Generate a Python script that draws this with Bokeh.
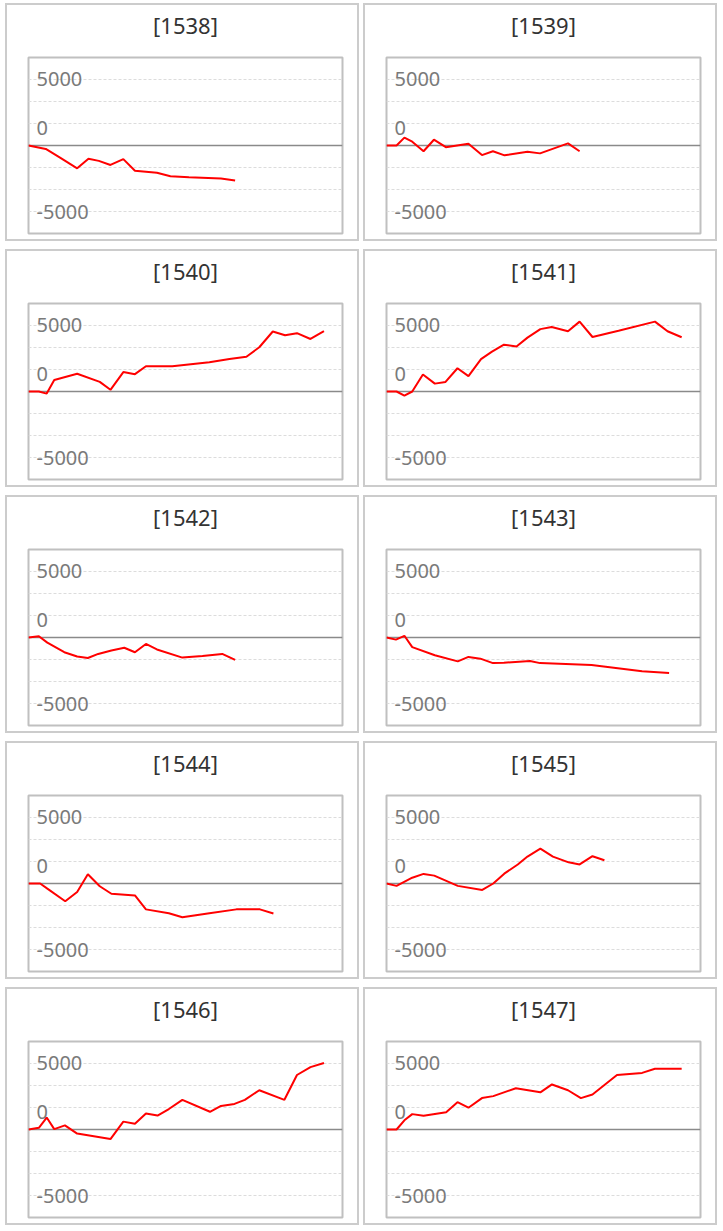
from bokeh.plotting import figure
from bokeh.layouts import gridplot
from bokeh.models import Range1d, FixedTicker, Span, Title
from bokeh.core.properties import value
from bokeh.embed import file_html
from bokeh.resources import INLINE

# ---- data -------------------------------------------------------------
IDS = ["1538", "1539", "1540", "1541", "1542", "1543", "1544", "1545", "1546", "1547"]

X_1538 = [0, 5.5, 10.3, 15.5, 19.1, 22.4, 26.1, 30.2, 33.9, 40.9, 45.2, 51.1, 61.3, 65.8]
Y_1538 = [0, -260, -960, -1740, -1010, -1170, -1480, -1040, -1920, -2080, -2340, -2410, -2520, -2670]

X_1539 = [0, 3.2, 5.7, 8.2, 11.8, 15.1, 18.9, 26.1, 30.4, 33.9, 37.6, 44.9, 48.9, 57.8, 61.5]
Y_1539 = [0, 0, 600, 290, -440, 440, -130, 130, -730, -440, -750, -470, -600, 160, -440]

X_1540 = [0, 3.3, 5.8, 8.2, 15.5, 22.7, 26.1, 30.2, 33.9, 37.4, 45.8, 57.6, 64.0, 69.4, 73.5, 77.8, 81.7, 85.5, 89.8, 94.1]
Y_1540 = [0, 0, -160, 880, 1350, 730, 130, 1480, 1320, 1920, 1920, 2230, 2470, 2650, 3370, 4570, 4280, 4440, 4000, 4600]

X_1541 = [0, 3.2, 5.7, 8.2, 11.6, 15.4, 18.8, 22.6, 26.1, 30.1, 33.6, 37.4, 41.4, 44.9, 49.0, 52.6, 57.8, 61.5, 65.6, 73.9, 85.5, 89.5, 94.0]
Y_1541 = [0, 0, -310, 0, 1300, 600, 730, 1770, 1170, 2470, 3040, 3560, 3430, 4100, 4750, 4910, 4590, 5320, 4150, 4620, 5320, 4590, 4130]

X_1542 = [0, 3.3, 6.0, 11.4, 15.5, 18.9, 22.2, 26.4, 30.5, 33.9, 37.4, 40.9, 49.0, 55.4, 61.7, 65.8]
Y_1542 = [0, 100, -390, -1120, -1450, -1560, -1250, -990, -780, -1120, -490, -910, -1530, -1400, -1250, -1710]

X_1543 = [0, 3.0, 5.7, 8.2, 15.4, 22.7, 26.1, 29.9, 33.9, 37.4, 45.7, 48.9, 65.3, 81.4, 90.0]
Y_1543 = [0, -160, 130, -730, -1350, -1820, -1480, -1610, -1950, -1920, -1790, -1950, -2100, -2570, -2700]

X_1544 = [0, 3.7, 6.0, 11.7, 15.5, 18.9, 22.7, 26.4, 33.9, 37.4, 44.7, 49.0, 57.6, 66.2, 73.7, 78.0]
Y_1544 = [0, 0, -390, -1350, -650, 700, -210, -780, -910, -1970, -2260, -2570, -2260, -1970, -1970, -2280]

X_1545 = [0, 3.2, 8.2, 11.8, 15.2, 22.7, 30.5, 34.0, 37.5, 41.8, 44.9, 49.0, 53.0, 58.0, 61.5, 65.6, 69.4]
Y_1545 = [0, -180, 440, 730, 600, -180, -490, 0, 750, 1450, 2050, 2650, 2050, 1610, 1450, 2080, 1770]

X_1546 = [0, 3.3, 5.8, 8.2, 11.6, 15.5, 26.1, 30.2, 33.9, 37.4, 41.1, 44.7, 49.0, 57.8, 61.3, 65.6, 68.9, 73.5, 81.5, 85.5, 89.8, 94.1]
Y_1546 = [0, 130, 910, 30, 310, -310, -730, 600, 440, 1220, 1060, 1560, 2260, 1350, 1790, 1950, 2260, 2990, 2260, 4150, 4750, 5060]

X_1547 = [0, 3.2, 5.7, 8.2, 11.8, 19.0, 22.6, 26.1, 30.4, 34.0, 41.2, 49.0, 52.7, 57.8, 61.9, 65.6, 69.6, 73.4, 81.4, 85.5, 94.0]
Y_1547 = [0, 0, 700, 1170, 1040, 1320, 2080, 1660, 2390, 2540, 3140, 2830, 3430, 2990, 2390, 2670, 3430, 4150, 4310, 4620, 4620]

SERIES = {
    "1538": (X_1538, Y_1538), "1539": (X_1539, Y_1539),
    "1540": (X_1540, Y_1540), "1541": (X_1541, Y_1541),
    "1542": (X_1542, Y_1542), "1543": (X_1543, Y_1543),
    "1544": (X_1544, Y_1544), "1545": (X_1545, Y_1545),
    "1546": (X_1546, Y_1546), "1547": (X_1547, Y_1547),
}

TICK_VALUES = [5000, 0, -5000]
TICK_LABELS = ["5000", "0", "-5000"]
GRID_VALUES = [-5000, -10000 / 3, -5000 / 3, 5000 / 3, 10000 / 3, 5000]

# ---- style ------------------------------------------------------------
FONT = "Noto Sans"
X_START, X_END = 0, 100
Y_START, Y_END = -6700, 6700
LABEL_DY = [-1, -18, 1]   # pixel nudges of the in-plot tick labels
FRAME_W, FRAME_H = 310, 172


def make_panel(pid):
    xs, ys = SERIES[pid]
    p = figure(width=354, height=238,
               x_range=Range1d(X_START, X_END), y_range=Range1d(Y_START, Y_END),
               x_axis_location=None, y_axis_location=None,
               toolbar_location=None, output_backend="svg",
               min_border_left=21, min_border_right=354 - 4 - 21 - FRAME_W,
               min_border_top=52, min_border_bottom=238 - 4 - 52 - FRAME_H,
               background_fill_color="white", border_fill_color="white",
               outline_line_color="#c0c0c0", outline_line_width=2,
               styles={"border": "2px solid #cccccc"})
    # thin spacer between the heading and the plot box
    p.add_layout(Title(text=" ", text_font_size="1px", standoff=9), "above")

    p.title.text = "[" + pid + "]"
    p.title.align = "center"
    p.title.vertical_align = "top"
    p.title.text_font = FONT
    p.title.text_font_size = "22px"
    p.title.text_font_style = "normal"
    p.title.text_color = "#333333"
    p.title.standoff = 8

    p.xgrid.visible = False
    p.ygrid.ticker = FixedTicker(ticks=GRID_VALUES)
    p.ygrid.grid_line_color = "#dcdcdc"
    p.ygrid.grid_line_dash = "3 2"
    p.ygrid.grid_line_width = 1

    p.add_layout(Span(location=0, dimension="width", line_color="#8a8a8a",
                      line_width=1.5, level="underlay"))

    p.text(x=[X_START] * len(TICK_VALUES), y=TICK_VALUES, text=TICK_LABELS,
           x_offset=8, y_offset=LABEL_DY,
           text_font=value(FONT), text_font_size="20px", text_color="#7a7a7a",
           text_align="left", text_baseline="middle")

    p.line(xs, ys, line_color="#ff0000", line_width=2)
    return p


figs = [make_panel(pid) for pid in IDS]
grid = gridplot(figs, ncols=2, toolbar_location=None)
grid.spacing = (8, 4)
grid.styles = {"margin-left": "5px", "margin-top": "3px"}

open("out.html", "w").write(file_html(grid, INLINE))
